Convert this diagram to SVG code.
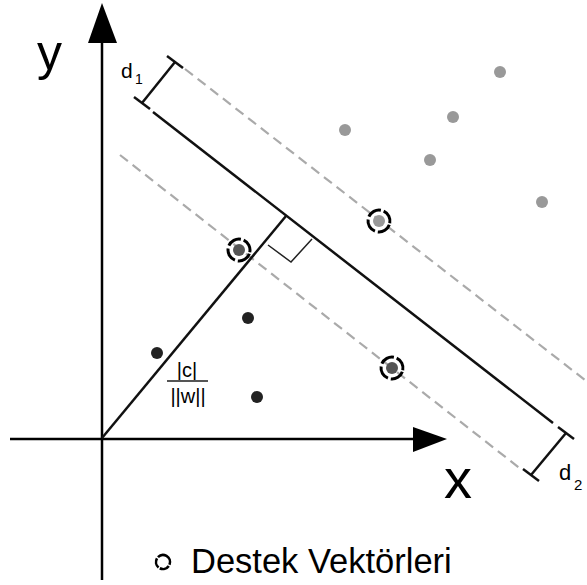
<svg xmlns="http://www.w3.org/2000/svg" width="587" height="585" viewBox="0 0 587 585">
<style>
.ax{stroke:#000;stroke-width:2.5;fill:none}
.sol{stroke:#111;stroke-width:2.5;fill:none}
.dash{stroke:#aaa;stroke-width:2.2;stroke-dasharray:10 6;fill:none}
.thin{stroke:#222;stroke-width:1.5;fill:none}
.gd{fill:#999}
.bd{fill:#222}
.sv{fill:none;stroke:#000;stroke-width:3;stroke-dasharray:14.5 3}
.lbl{font-family:"Liberation Sans",Arial,sans-serif;fill:#000}
</style>
<rect width="587" height="585" fill="#fff"/>
<g id="connectors">
<line class="ax" x1="102" y1="580" x2="102" y2="40"/>
<polygon points="102,3 88,43 117,43" fill="#000"/>
<line class="ax" x1="10" y1="439" x2="414" y2="439"/>
<polygon points="447,439 413,427 413,452" fill="#000"/>
<line class="dash" x1="185" y1="69" x2="600" y2="391.7"/>
<line class="sol" x1="153" y1="112" x2="553" y2="423"/>
<line class="dash" x1="120" y1="155" x2="522" y2="470"/>
<line class="sol" x1="102" y1="438" x2="286" y2="216"/>
<polyline class="thin" points="268,245 291,262 312,239"/>
<g class="sol">
<line x1="175" y1="62" x2="142" y2="103"/>
<line x1="167" y1="56" x2="183" y2="68"/>
<line x1="134" y1="97" x2="150" y2="109"/>
<line x1="566" y1="433" x2="531" y2="475"/>
<line x1="558" y1="427" x2="574" y2="439"/>
<line x1="523" y1="469" x2="539" y2="481"/>
</g>
</g>
<g id="gray-points">
<circle class="gd" cx="500" cy="72" r="6"/>
<circle class="gd" cx="345" cy="130" r="6"/>
<circle class="gd" cx="453" cy="117" r="6"/>
<circle class="gd" cx="430" cy="160" r="6"/>
<circle class="gd" cx="542" cy="202" r="6"/>
</g>
<g id="black-points">
<circle class="bd" cx="157" cy="353" r="6"/>
<circle class="bd" cx="248" cy="318" r="6"/>
<circle class="bd" cx="257" cy="397" r="6"/>
</g>
<g id="sv1">
<circle cx="379" cy="221" r="6" fill="#999"/>
<circle class="sv" cx="379" cy="221" r="11" transform="rotate(20 379 221)"/>
</g>
<g id="sv2">
<circle cx="239" cy="250" r="6" fill="#555"/>
<circle class="sv" cx="239" cy="250" r="11" transform="rotate(20 239 250)"/>
</g>
<g id="sv3">
<circle cx="392" cy="368" r="6" fill="#555"/>
<circle class="sv" cx="392" cy="368" r="11" transform="rotate(20 392 368)"/>
</g>
<g id="labels">
<text class="lbl" x="37" y="70" font-size="50">y</text>
<text class="lbl" x="444" y="498" font-size="56">x</text>
<text class="lbl" x="121" y="78" font-size="21">d</text>
<text class="lbl" x="135" y="84" font-size="14">1</text>
<text class="lbl" x="559" y="480" font-size="22">d</text>
<text class="lbl" x="574" y="490" font-size="15">2</text>
<text class="lbl" x="187" y="377" font-size="20" text-anchor="middle" fill="#333">|c|</text>
<line x1="167" y1="381" x2="208" y2="381" stroke="#555" stroke-width="2"/>
<text class="lbl" x="188" y="403" font-size="20" text-anchor="middle" fill="#333">||w||</text>
</g>
<g id="legend">
<circle cx="163" cy="562" r="7" fill="none" stroke="#000" stroke-width="2.6" stroke-dasharray="10 1.5" transform="rotate(-60 163 562)"/>
<text class="lbl" x="191" y="573" font-size="34.5">Destek Vektörleri</text>
</g>
</svg>
